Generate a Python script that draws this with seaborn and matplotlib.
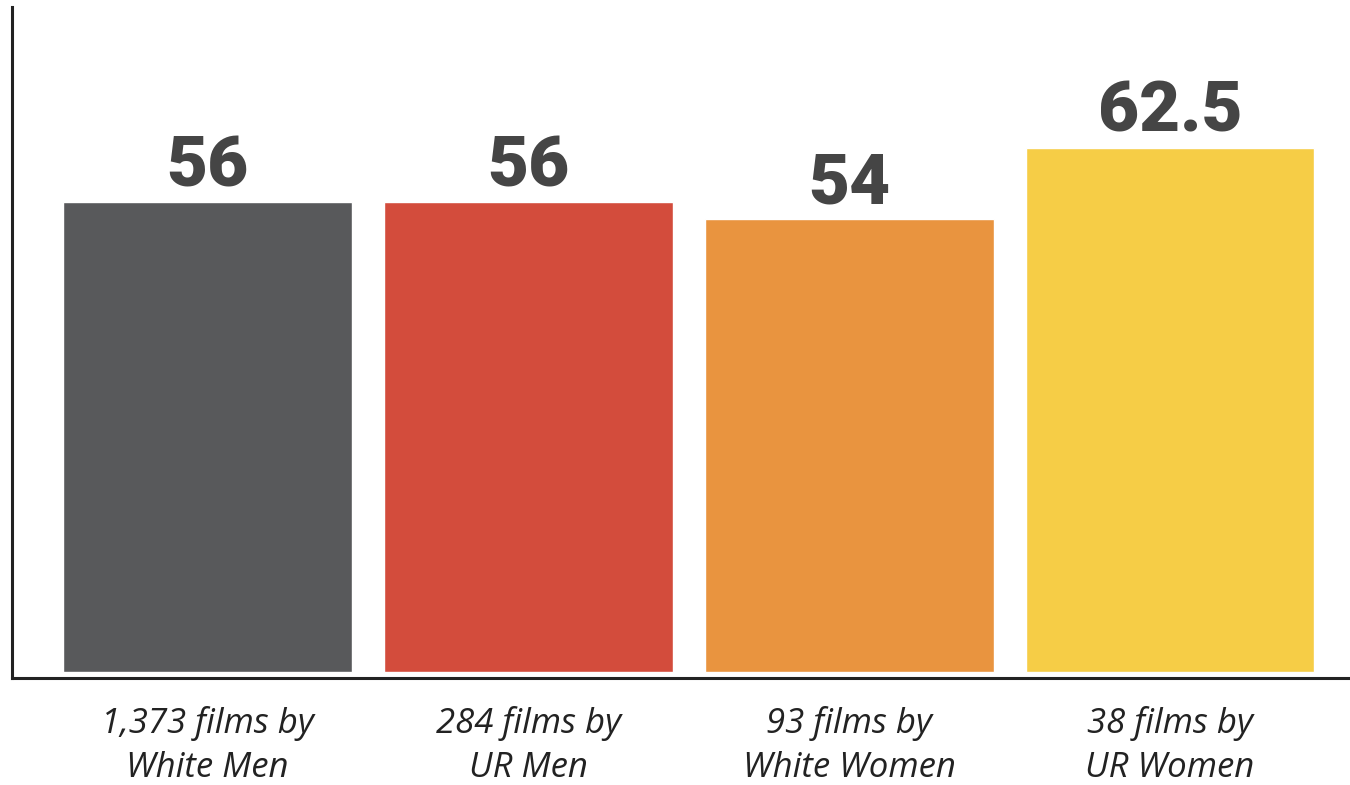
import matplotlib.pyplot as plt
import numpy as np
import pandas as pd
import seaborn as sns

groups = ["1,373 films by\nWhite Men", "284 films by\nUR Men",
          "93 films by\nWhite Women", "38 films by\nUR Women"]
scores = [56, 56, 54, 62.5]
value_labels = ["56", "56", "54", "62.5"]
bar_colors = ["#58595b", "#d34c3c", "#e9943f", "#f6cd46"]

df = pd.DataFrame({"group": groups, "score": scores})

sns.set_theme(style="white")
plt.rcParams["font.family"] = ["Open Sans", "DejaVu Sans"]

fig = plt.figure(figsize=(13.5, 7.85), dpi=100)
ax = fig.add_axes([12 / 1350, 1 - 678 / 785, 1338 / 1350, 671 / 785])

sns.barplot(data=df, x="group", y="score", hue="group", palette=bar_colors,
            width=0.9, legend=False, ax=ax, saturation=1)

#value labels above bars
for i, v in enumerate(scores):
    ax.text(i, v + 1.9, value_labels[i], ha="center", va="baseline",
            fontsize=51, fontweight="black", color="#454545",
            family=["Roboto", "DejaVu Sans"])

ax.set_xlim(-0.609, 3.561)
ax.set_ylim(-0.7, 79.3)
ax.set_xlabel("")
ax.set_ylabel("")
ax.set_yticks([])
ax.tick_params(axis="x", length=0, pad=20)
for lab in ax.get_xticklabels():
    lab.set_fontsize(25)
    lab.set_fontstyle("italic")
    lab.set_color("#222222")
    lab.set_linespacing(1.4)

sns.despine(ax=ax, top=True, right=True)
ax.spines["left"].set_color("#222222")
ax.spines["bottom"].set_color("#222222")
ax.spines["left"].set_linewidth(2.2)
ax.spines["bottom"].set_linewidth(2.2)

fig.savefig("out.png", dpi=100)
